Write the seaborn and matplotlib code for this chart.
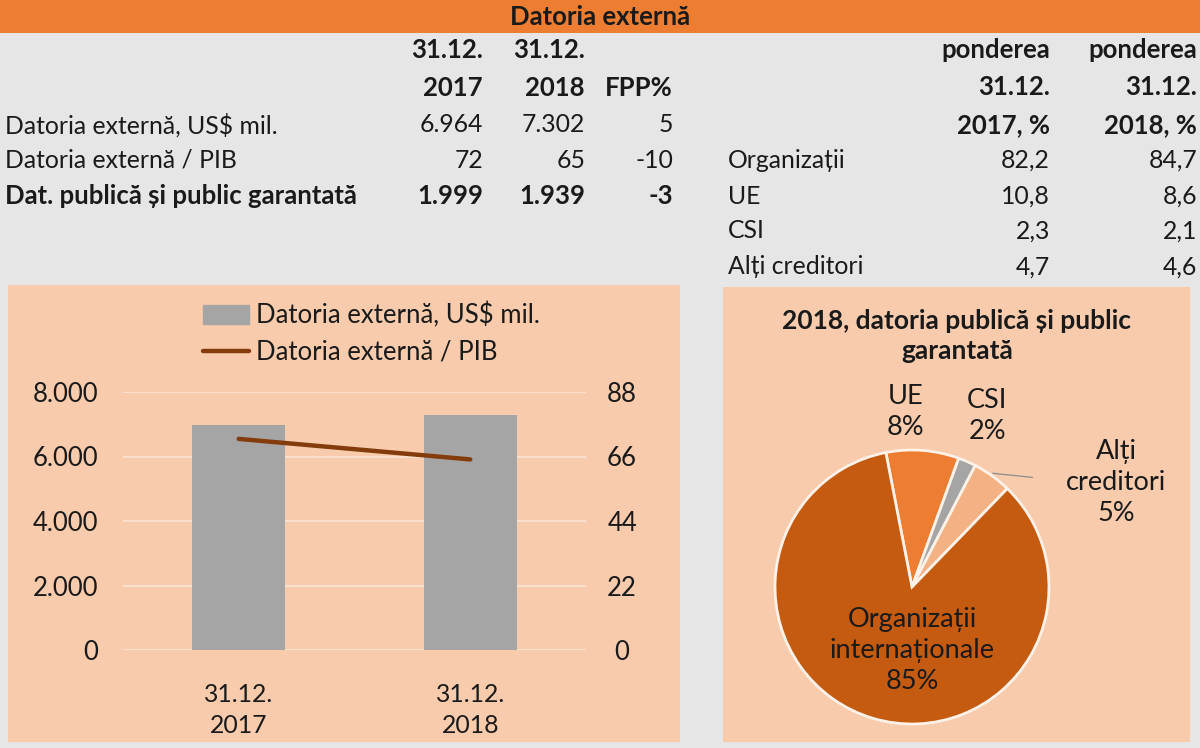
import matplotlib
matplotlib.use("Agg")
import matplotlib.pyplot as plt
import matplotlib.patches as mpatches
from matplotlib.lines import Line2D
from matplotlib.ticker import FuncFormatter
import numpy as np
import pandas as pd
import seaborn as sns

# ---------------- data ----------------
title = "Datoria externă"
dates = ["31.12.\n2017", "31.12.\n2018"]
row_labels = ["Datoria externă, US$ mil.", "Datoria externă / PIB", "Dat. publică și public garantată"]
ext_debt = [6964, 7302]          # US$ mil.
debt_gdp = [72, 65]              # %
public_debt = [1999, 1939]       # US$ mil.
fpp = [5, -10, -3]

creditors = ["Organizații", "UE", "CSI", "Alți creditori"]
share_2017 = [82.2, 10.8, 2.3, 4.7]
share_2018 = [84.7, 8.6, 2.1, 4.6]

pie_labels = ["UE", "CSI", "Alți\ncreditori", "Organizații\ninternaționale"]
pie_values = [8.6, 2.1, 4.6, 84.7]
pie_pct = ["8%", "2%", "5%", "85%"]

left_ticks = [0, 2000, 4000, 6000, 8000]
right_ticks = [0, 22, 44, 66, 88]

# ---------------- style ----------------
sns.set_theme(style="white")
plt.rcParams['font.family'] = ['Lato', 'DejaVu Sans']

W, H = 1200, 748
fig = plt.figure(figsize=(12, 7.48), dpi=100)
fig.patch.set_facecolor("#E7E6E6")

def fx(x):
    return x / W
def fy(y):
    return 1 - y / H

def ro(v, dec=0):
    s = f"{v:,.{dec}f}"
    return s.replace(",", "X").replace(".", ",").replace("X", ".")

ORANGE = "#ED7D31"
PEACH = "#F8CBAD"
DARK = "#C55A11"
TXT = "#1a1a1a"
FS = 17.8
FSB = 18.5

# header band
fig.patches.append(mpatches.Rectangle((0, fy(33)), 1, 33 / H, transform=fig.transFigure,
                                      facecolor=ORANGE, edgecolor="none", zorder=-5))
fig.text(0.5, fy(17), title, ha="center", va="center", fontsize=FSB, fontweight="bold", color=TXT)

# left table
hdr_x = [483, 585]
for i, d in enumerate(dates):
    a, b = d.split("\n")
    fig.text(fx(hdr_x[i]), fy(50), a, ha="right", va="center", fontsize=FSB, fontweight="bold", color=TXT)
    fig.text(fx(hdr_x[i]), fy(88), b, ha="right", va="center", fontsize=FSB, fontweight="bold", color=TXT)
fig.text(fx(673), fy(88), "FPP%", ha="right", va="center", fontsize=FSB, fontweight="bold", color=TXT)

rows = [ext_debt, debt_gdp, public_debt]
row_y = [125, 160, 196]
for r, (lab, vals) in enumerate(zip(row_labels, rows)):
    fw = "bold" if r == 2 else "normal"
    fs = FSB if r == 2 else FS
    fig.text(fx(5), fy(row_y[r]), lab, ha="left", va="center", fontsize=fs, fontweight=fw, color=TXT)
    for i, v in enumerate(vals):
        fig.text(fx(hdr_x[i]), fy(row_y[r]), ro(v), ha="right", va="center", fontsize=fs, fontweight=fw, color=TXT)
    fig.text(fx(673), fy(row_y[r]), str(fpp[r]), ha="right", va="center", fontsize=fs, fontweight=fw, color=TXT)

# right table
rx = [1050, 1197]
yrs = ["2017, %", "2018, %"]
for i in range(2):
    fig.text(fx(rx[i]), fy(50), "ponderea", ha="right", va="center", fontsize=FSB, fontweight="bold", color=TXT)
    fig.text(fx(rx[i]), fy(87), "31.12.", ha="right", va="center", fontsize=FSB, fontweight="bold", color=TXT)
    fig.text(fx(rx[i]), fy(125), yrs[i], ha="right", va="center", fontsize=FSB, fontweight="bold", color=TXT)
cr_y = [160, 196, 231, 267]
for k, c in enumerate(creditors):
    fig.text(fx(728), fy(cr_y[k]), c, ha="left", va="center", fontsize=FS, color=TXT)
    fig.text(fx(rx[0]), fy(cr_y[k]), ro(share_2017[k], 1), ha="right", va="center", fontsize=FS, color=TXT)
    fig.text(fx(rx[1]), fy(cr_y[k]), ro(share_2018[k], 1), ha="right", va="center", fontsize=FS, color=TXT)

# panels
fig.patches.append(mpatches.Rectangle((fx(8), fy(742)), fx(672), 457 / H, transform=fig.transFigure,
                                      facecolor=PEACH, edgecolor="none", zorder=-5))
fig.patches.append(mpatches.Rectangle((fx(723), fy(742)), fx(467), 455 / H, transform=fig.transFigure,
                                      facecolor=PEACH, edgecolor="none", zorder=-5))

# ---------------- bar + line chart ----------------
ax1 = fig.add_axes([fx(123), fy(650), fx(463), 258 / H])
ax1.set_facecolor("none")
df = pd.DataFrame({"date": dates, "debt": ext_debt})
sns.barplot(data=df, x="date", y="debt", color="#A5A5A5", width=0.4, saturation=1, ax=ax1,
            zorder=2, edgecolor="none", linewidth=0)
ax1.set_ylim(0, 8000)
ax1.set_xlim(-0.5, 1.5)
ax1.set_yticks(left_ticks)
ax1.yaxis.set_major_formatter(FuncFormatter(lambda v, p: ro(v)))
ax1.grid(axis="y", color="#FBE0CD", linewidth=1.5, zorder=0)
ax1.set_axisbelow(True)
ax1.set_xlabel("")
ax1.set_ylabel("")
for s in ax1.spines.values():
    s.set_visible(False)
ax1.tick_params(axis="y", length=0, pad=18, labelsize=18.5, labelcolor=TXT)
ax1.tick_params(axis="x", length=0, pad=24, labelsize=17.8, labelcolor=TXT)
for t in ax1.get_xticklabels():
    t.set_linespacing(1.42)

ax2 = ax1.twinx()
sns.lineplot(x=np.arange(len(debt_gdp)), y=debt_gdp, ax=ax2, color="#843C0C", linewidth=3.2, zorder=3)
ax2.set_ylim(0, 88)
ax2.set_yticks(right_ticks)
ax2.grid(False)
for s in ax2.spines.values():
    s.set_visible(False)
ax2.tick_params(axis="y", length=0, pad=26, labelsize=18.5, labelcolor=TXT)
for t in ax2.get_yticklabels():
    t.set_ha("center")

handles = [mpatches.Patch(color="#A5A5A5"), Line2D([0], [0], color="#843C0C", linewidth=3.2)]
leg = fig.legend(handles, ["Datoria externă, US$ mil.", "Datoria externă / PIB"],
                 loc="upper left", bbox_to_anchor=(fx(203), fy(302)), frameon=False,
                 fontsize=18.5, handlelength=1.8, handleheight=0.75, handletextpad=0.25,
                 labelspacing=0.45, borderaxespad=0, borderpad=0)
for t in leg.get_texts():
    t.set_color(TXT)

# ---------------- pie ----------------
R = 137
axp = fig.add_axes([fx(912 - R), fy(587 + R), fx(2 * R), 2 * R / H])
colors = [ORANGE, "#A5A5A5", "#F4B183", DARK]
axp.pie(pie_values, colors=colors, startangle=101, counterclock=False,
        wedgeprops=dict(edgecolor="#FDF1E8", linewidth=2))
axp.set_xlim(-1, 1)
axp.set_ylim(-1, 1)
axp.set_aspect("equal")
axp.axis("off")

lab_pos = [(-0.05, 1.28), (0.55, 1.25), (1.49, 0.76), (0.0, -0.46)]
for lab, pct, (px, py) in zip(pie_labels, pie_pct, lab_pos):
    axp.text(px, py, f"{lab}\n{pct}", ha="center", va="center", fontsize=19.5, color=TXT,
             linespacing=1.3, clip_on=False)
axp.plot([0.59, 0.88], [0.83, 0.80], color="#8C8C8C", linewidth=0.9, clip_on=False)

fig.text(fx(957), fy(336), "2018, datoria publică și public\ngarantată", ha="center", va="center",
         fontsize=19, fontweight="bold", color=TXT, linespacing=1.3)

fig.savefig("out.png", dpi=100, facecolor=fig.get_facecolor())
